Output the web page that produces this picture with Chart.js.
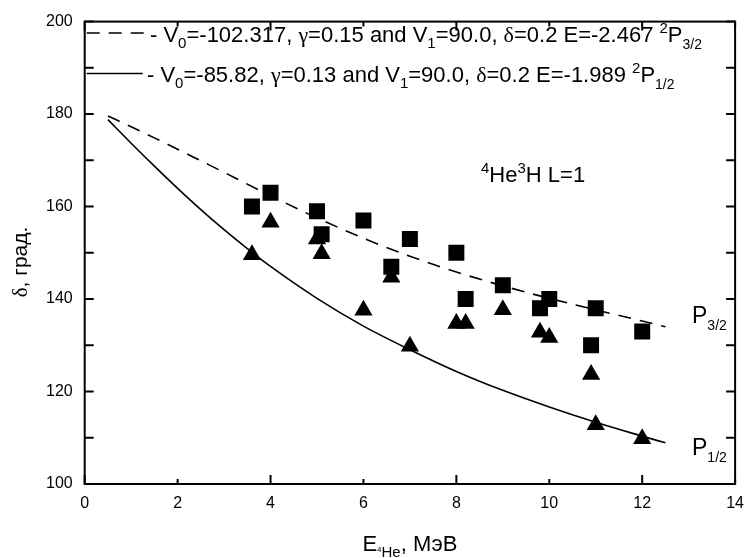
<!DOCTYPE html>
<html>
<head>
<meta charset="utf-8">
<script src="https://cdn.jsdelivr.net/npm/chart.js@4.4.1/dist/chart.umd.min.js"></script>
<style>
  html, body { margin: 0; padding: 0; background: #fff; }
</style>
</head>
<body>
<canvas id="phaseChart" width="754" height="558"></canvas>
<script>
// experimental points (squares ~ P3/2, triangles ~ P1/2)
const energySq = [3.6, 4.0, 5.0, 5.1, 6.0, 6.6, 7.0, 8.0, 8.2, 9.0, 9.8, 10.0, 10.9, 11.0, 12.0];
const phaseSq = [160, 163, 159, 154, 157, 147, 153, 150, 140, 143, 138, 140, 130, 138, 133];
const energyTri = [3.6, 4.0, 5.0, 5.1, 6.0, 6.6, 7.0, 8.0, 8.2, 9.0, 9.8, 10.0, 10.9, 11.0, 12.0];
const phaseTri = [149.6, 156.6, 153, 149.8, 137.6, 144.7, 129.8, 134.7, 134.7, 137.7, 132.8, 131.7, 123.7, 112.8, 109.8];

// calculated phase shifts
const energyCurve = [0.5, 1, 1.5, 2, 2.5, 3, 3.5, 4, 5, 6, 7, 8, 9, 10, 11, 12, 12.5];
const phaseP32 = [179.6, 177.25, 174.85, 172.4, 169.9, 167.4, 164.85, 162.35, 157.55, 153.15, 149.25, 145.85, 142.85, 140.15, 137.65, 135.25, 134.0];
const phaseP12 = [178.8, 173.7, 168.75, 163.95, 159.35, 155.0, 150.9, 147.05, 140.15, 134.15, 129.05, 124.35, 120.25, 116.65, 113.35, 110.35, 108.9];

const xTicks = [0, 2, 4, 6, 8, 10, 12, 14];
const yTicks = [100, 120, 140, 160, 180, 200];

const SANS = '"Liberation Sans", Arial, sans-serif';
const SERIF = '"Liberation Serif", "Times New Roman", serif';

function pts(xs, ys) {
  return xs.map((x, i) => ({ x: x, y: ys[i] }));
}

// draw a run of text pieces: [text, size, baseline shift, family]
function richWidth(ctx, parts) {
  let w = 0;
  parts.forEach(p => {
    ctx.font = p[1] + 'px ' + (p[3] || SANS);
    w += ctx.measureText(p[0]).width;
  });
  return w;
}
function drawRich(ctx, x, y, parts) {
  ctx.textBaseline = 'alphabetic';
  ctx.textAlign = 'left';
  parts.forEach(p => {
    ctx.font = p[1] + 'px ' + (p[3] || SANS);
    ctx.fillText(p[0], x, y + (p[2] || 0));
    x += ctx.measureText(p[0]).width;
  });
}

const framePlugin = {
  id: 'frame',
  afterDraw(chart) {
    const ctx = chart.ctx;
    const a = chart.chartArea;
    const xs = chart.scales.x, ys = chart.scales.y;
    ctx.save();
    ctx.strokeStyle = '#000';
    ctx.fillStyle = '#000';
    ctx.lineWidth = 2;
    ctx.strokeRect(a.left, a.top, a.right - a.left, a.bottom - a.top);

    // inward ticks on all sides
    ctx.beginPath();
    for (let v = 0; v <= 14; v += 2) {
      const px = xs.getPixelForValue(v);
      const len = v % 4 === 0 ? 9 : 5;
      ctx.moveTo(px, a.bottom); ctx.lineTo(px, a.bottom - len);
      ctx.moveTo(px, a.top); ctx.lineTo(px, a.top + len);
    }
    for (let v = 100; v <= 200; v += 10) {
      const py = ys.getPixelForValue(v);
      ctx.moveTo(a.left, py); ctx.lineTo(a.left + 9, py);
      ctx.moveTo(a.right, py); ctx.lineTo(a.right - 9, py);
    }
    ctx.stroke();

    // legend samples
    ctx.lineWidth = 1.6;
    ctx.setLineDash([13, 9]);
    ctx.beginPath();
    ctx.moveTo(a.left + 2, 33); ctx.lineTo(a.left + 60, 33);
    ctx.stroke();
    ctx.setLineDash([]);
    ctx.beginPath();
    ctx.moveTo(a.left + 2, 73.5); ctx.lineTo(a.left + 58, 73.5);
    ctx.stroke();

    drawRich(ctx, 150, 41.5, [
      ['- V', 22], ['0', 15, 6], ['=-102.317, ', 22], ['\u03b3', 22, 0, SERIF], ['=0.15 and V', 22], ['1', 15, 6],
      ['=90.0, ', 22], ['\u03b4', 22, 0, SERIF], ['=0.2 E=-2.467 ', 22], ['2', 15, -9], ['P', 22], ['3/2', 14, 7]
    ]);
    drawRich(ctx, 147, 81.5, [
      ['- V', 22], ['0', 15, 6], ['=-85.82, ', 22], ['\u03b3', 22, 0, SERIF], ['=0.13 and V', 22], ['1', 15, 6],
      ['=90.0, ', 22], ['\u03b4', 22, 0, SERIF], ['=0.2 E=-1.989 ', 22], ['2', 15, -9], ['P', 22], ['1/2', 14, 7]
    ]);

    // reaction note
    drawRich(ctx, 481, 182, [['4', 15, -9], ['He', 22], ['3', 15, -9], ['H L=1', 22]]);

    // curve labels
    drawRich(ctx, 692, 323, [['P', 23], ['3/2', 14, 7]]);
    drawRich(ctx, 692, 455, [['P', 23], ['1/2', 14, 7]]);

    // x axis title
    const xt = [['E', 22], ['4', 8, 1], ['He', 15, 6], [', \u041c\u044d\u0412', 22]];
    const xw = richWidth(ctx, xt);
    drawRich(ctx, (a.left + a.right) / 2 - xw / 2, 551, xt);

    // y axis title
    ctx.translate(27, 262);
    ctx.rotate(-Math.PI / 2);
    const yt = [['\u03b4', 21, 0, SERIF], [', \u0433\u0440\u0430\u0434.', 21]];
    const yw = richWidth(ctx, yt);
    drawRich(ctx, -yw / 2, 0, yt);
    ctx.restore();
  }
};

const ctx = document.getElementById('phaseChart').getContext('2d');
new Chart(ctx, {
  type: 'scatter',
  data: {
    datasets: [
      {
        label: 'P3/2 calc',
        data: pts(energyCurve, phaseP32),
        showLine: true,
        borderColor: '#000',
        borderWidth: 1.6,
        borderDash: [13, 9],
        pointRadius: 0,
        cubicInterpolationMode: 'monotone'
      },
      {
        label: 'P1/2 calc',
        data: pts(energyCurve, phaseP12),
        showLine: true,
        borderColor: '#000',
        borderWidth: 1.6,
        pointRadius: 0,
        cubicInterpolationMode: 'monotone'
      },
      {
        label: 'squares',
        data: pts(energySq, phaseSq),
        pointStyle: 'rect',
        pointRadius: 11.3,
        backgroundColor: '#000',
        borderWidth: 0
      },
      {
        label: 'triangles',
        data: pts(energyTri, phaseTri),
        pointStyle: 'triangle',
        pointRadius: 10.5,
        backgroundColor: '#000',
        borderWidth: 0
      }
    ]
  },
  options: {
    responsive: false,
    animation: false,
    layout: { padding: { top: 17, right: 11.3, left: 0, bottom: 0 } },
    plugins: { legend: { display: false }, tooltip: { enabled: false } },
    scales: {
      x: {
        type: 'linear',
        min: 0,
        max: 14,
        afterBuildTicks: s => { s.ticks = xTicks.map(v => ({ value: v })); },
        afterFit: s => { s.height = 74; },
        ticks: { color: '#000', font: { family: SANS, size: 16 }, padding: 10, maxRotation: 0 },
        grid: { display: false, drawTicks: false },
        border: { display: false }
      },
      y: {
        min: 100,
        max: 200,
        afterBuildTicks: s => { s.ticks = yTicks.map(v => ({ value: v })); },
        afterFit: s => { s.width = 84.7; },
        ticks: { color: '#000', font: { family: SANS, size: 16 }, padding: 12 },
        grid: { display: false, drawTicks: false },
        border: { display: false }
      }
    }
  },
  plugins: [framePlugin]
});
</script>
</body>
</html>
